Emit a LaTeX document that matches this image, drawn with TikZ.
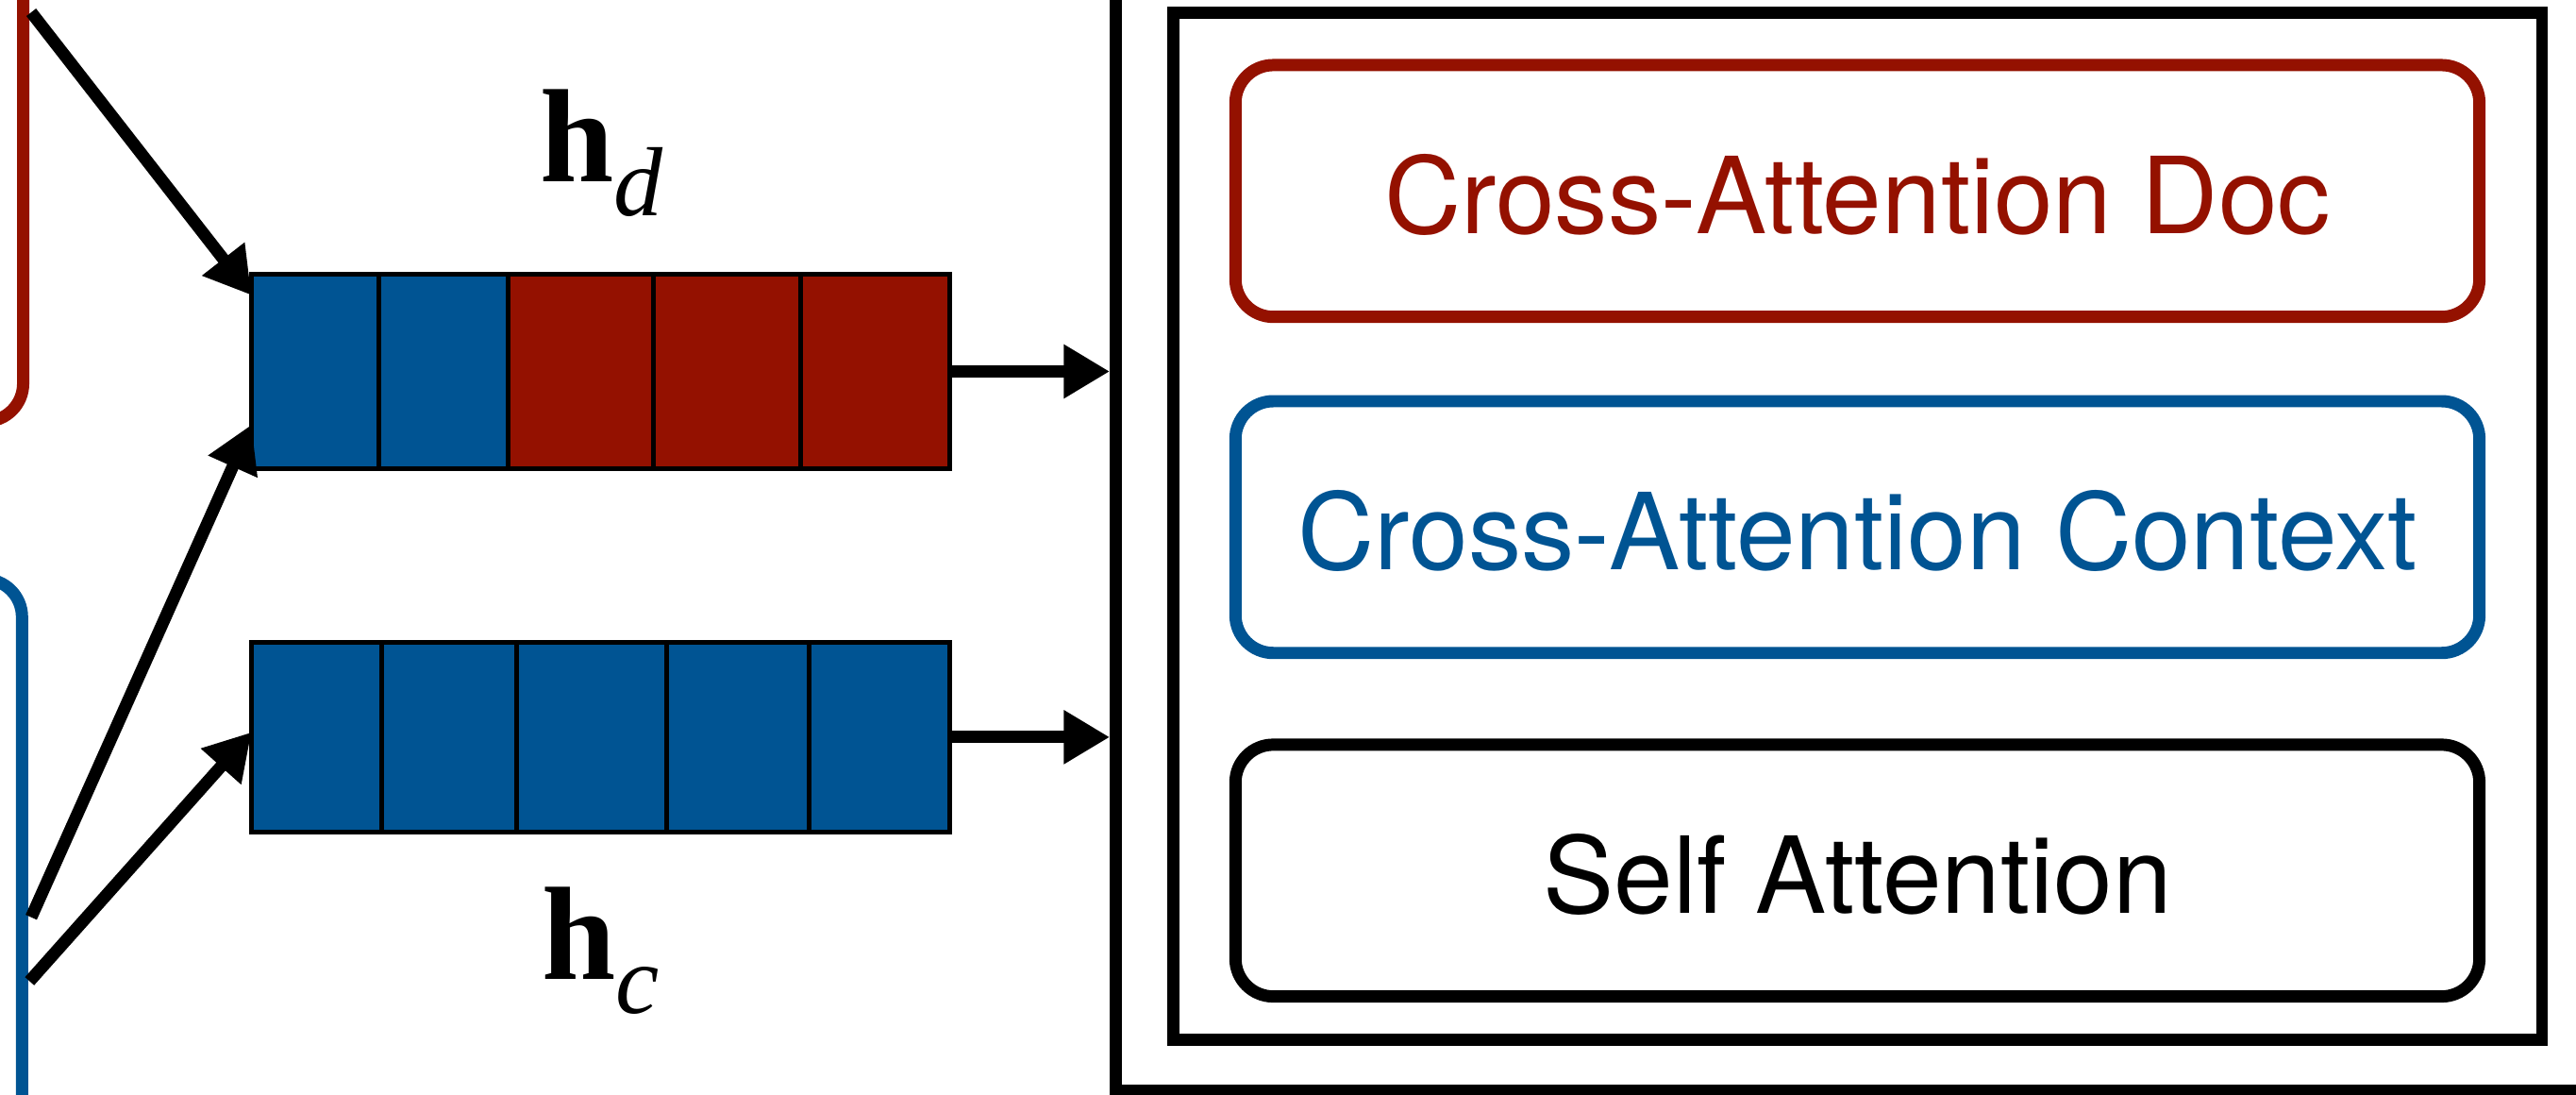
\documentclass[tikz,border=0pt]{standalone}
\usepackage{fontspec}
\usepackage{tikz}
\usetikzlibrary{arrows.meta,positioning,calc}
\newfontfamily\heros{TeX Gyre Heros}
\newfontfamily\timesfont{Liberation Serif}
\definecolor{docred}{HTML}{941100}
\definecolor{ctxblue}{HTML}{005493}
\newcommand{\hvec}[1]{\textbf{h}\raisebox{-0.21cm}{\fontsize{17}{17}\selectfont\textit{#1}}}

\begin{document}
\begin{tikzpicture}[
 x=1cm,y=1cm,
 cell/.style={draw=black,line width=0.82pt,inner sep=0pt,outer sep=0pt},
 frame/.style={draw=black,line width=2.12pt,inner sep=0pt},
 attn/.style={rounded corners=0.23cm,line width=2.12pt,inner sep=0pt,
              minimum width=7.572cm,minimum height=1.532cm,
              text height=0.516cm,text depth=0cm,
              font=\heros\fontsize{18.4}{22}\selectfont},
 srcbox/.style={rounded corners=0.23cm,line width=2.12pt,outer sep=0pt,
                minimum width=3cm,minimum height=4cm},
 flow/.style={-{Triangle[length=2.8mm,width=3.1mm]},line width=2.12pt},
 hlabel/.style={inner sep=0pt,anchor=base west,font=\timesfont\fontsize{23}{23}\selectfont}]
\useasboundingbox (0,0) rectangle (15.68,6.66);
\clip (0,0) rectangle (15.68,6.66);
% sources on the left, only their right edges show
\node[srcbox,draw=docred,anchor=south east] (docsrc) at (0.141,4.096) {};
\node[srcbox,draw=ctxblue,anchor=north east] (ctxsrc) at (0.134,3.136) {};
\coordinate (dstart) at (0.19,6.585);
\coordinate (cstarta) at (0.19,1.079);
\coordinate (cstartb) at (0.18,0.69);
% concatenated sequence
\node[cell,fill=ctxblue,minimum width=0.773cm,minimum height=1.187cm,anchor=west] (d1) at (1.531,4.40) {};
\node[cell,fill=ctxblue,minimum width=0.788cm,minimum height=1.187cm,right=0pt of d1] (d2) {};
\node[cell,fill=docred,minimum width=0.885cm,minimum height=1.187cm,right=0pt of d2] (d3) {};
\node[cell,fill=docred,minimum width=0.898cm,minimum height=1.187cm,right=0pt of d3] (d4) {};
\node[cell,fill=docred,minimum width=0.907cm,minimum height=1.187cm,right=0pt of d4] (d5) {};
% context sequence
\node[cell,fill=ctxblue,minimum width=0.790cm,minimum height=1.158cm,anchor=west] (c1) at (1.531,2.175) {};
\node[cell,fill=ctxblue,minimum width=0.822cm,minimum height=1.158cm,right=0pt of c1] (c2) {};
\node[cell,fill=ctxblue,minimum width=0.914cm,minimum height=1.158cm,right=0pt of c2] (c3) {};
\node[cell,fill=ctxblue,minimum width=0.867cm,minimum height=1.158cm,right=0pt of c3] (c4) {};
\node[cell,fill=ctxblue,minimum width=0.858cm,minimum height=1.158cm,right=0pt of c4] (c5) {};
\node[hlabel] (hd) at (3.28,5.557) {\hvec{d}};
\node[hlabel] (hc) at (3.29,0.702) {\hvec{c}};
% decoder layer
\node[frame,anchor=south west,minimum width=10cm,minimum height=8cm] (layer) at (6.755,-0.014) {};
\node[frame,minimum width=8.332cm,minimum height=6.247cm] (block) at (11.307,3.4565) {};
\node[attn,draw=docred,text=docred] (xdoc) at (11.306,5.498) {Cross-Attention Doc};
\node[attn,draw=ctxblue,text=ctxblue] (xctx) at (11.306,3.453) {Cross-Attention Context};
\node[attn,draw=black] (self) at (11.306,1.363) {Self Attention};
\draw[flow] (dstart) -- ($(d1.north west)+(0,-0.13)$);
\draw[flow] (cstarta) -- ($(d1.south west)+(0,0.27)$);
\draw[flow] (cstartb) -- ($(c1.west)+(0,0.03)$);
\draw[flow] (d5.east) -- (d5.east -| layer.west);
\draw[flow] (c5.east) -- (c5.east -| layer.west);
\end{tikzpicture}
\end{document}
